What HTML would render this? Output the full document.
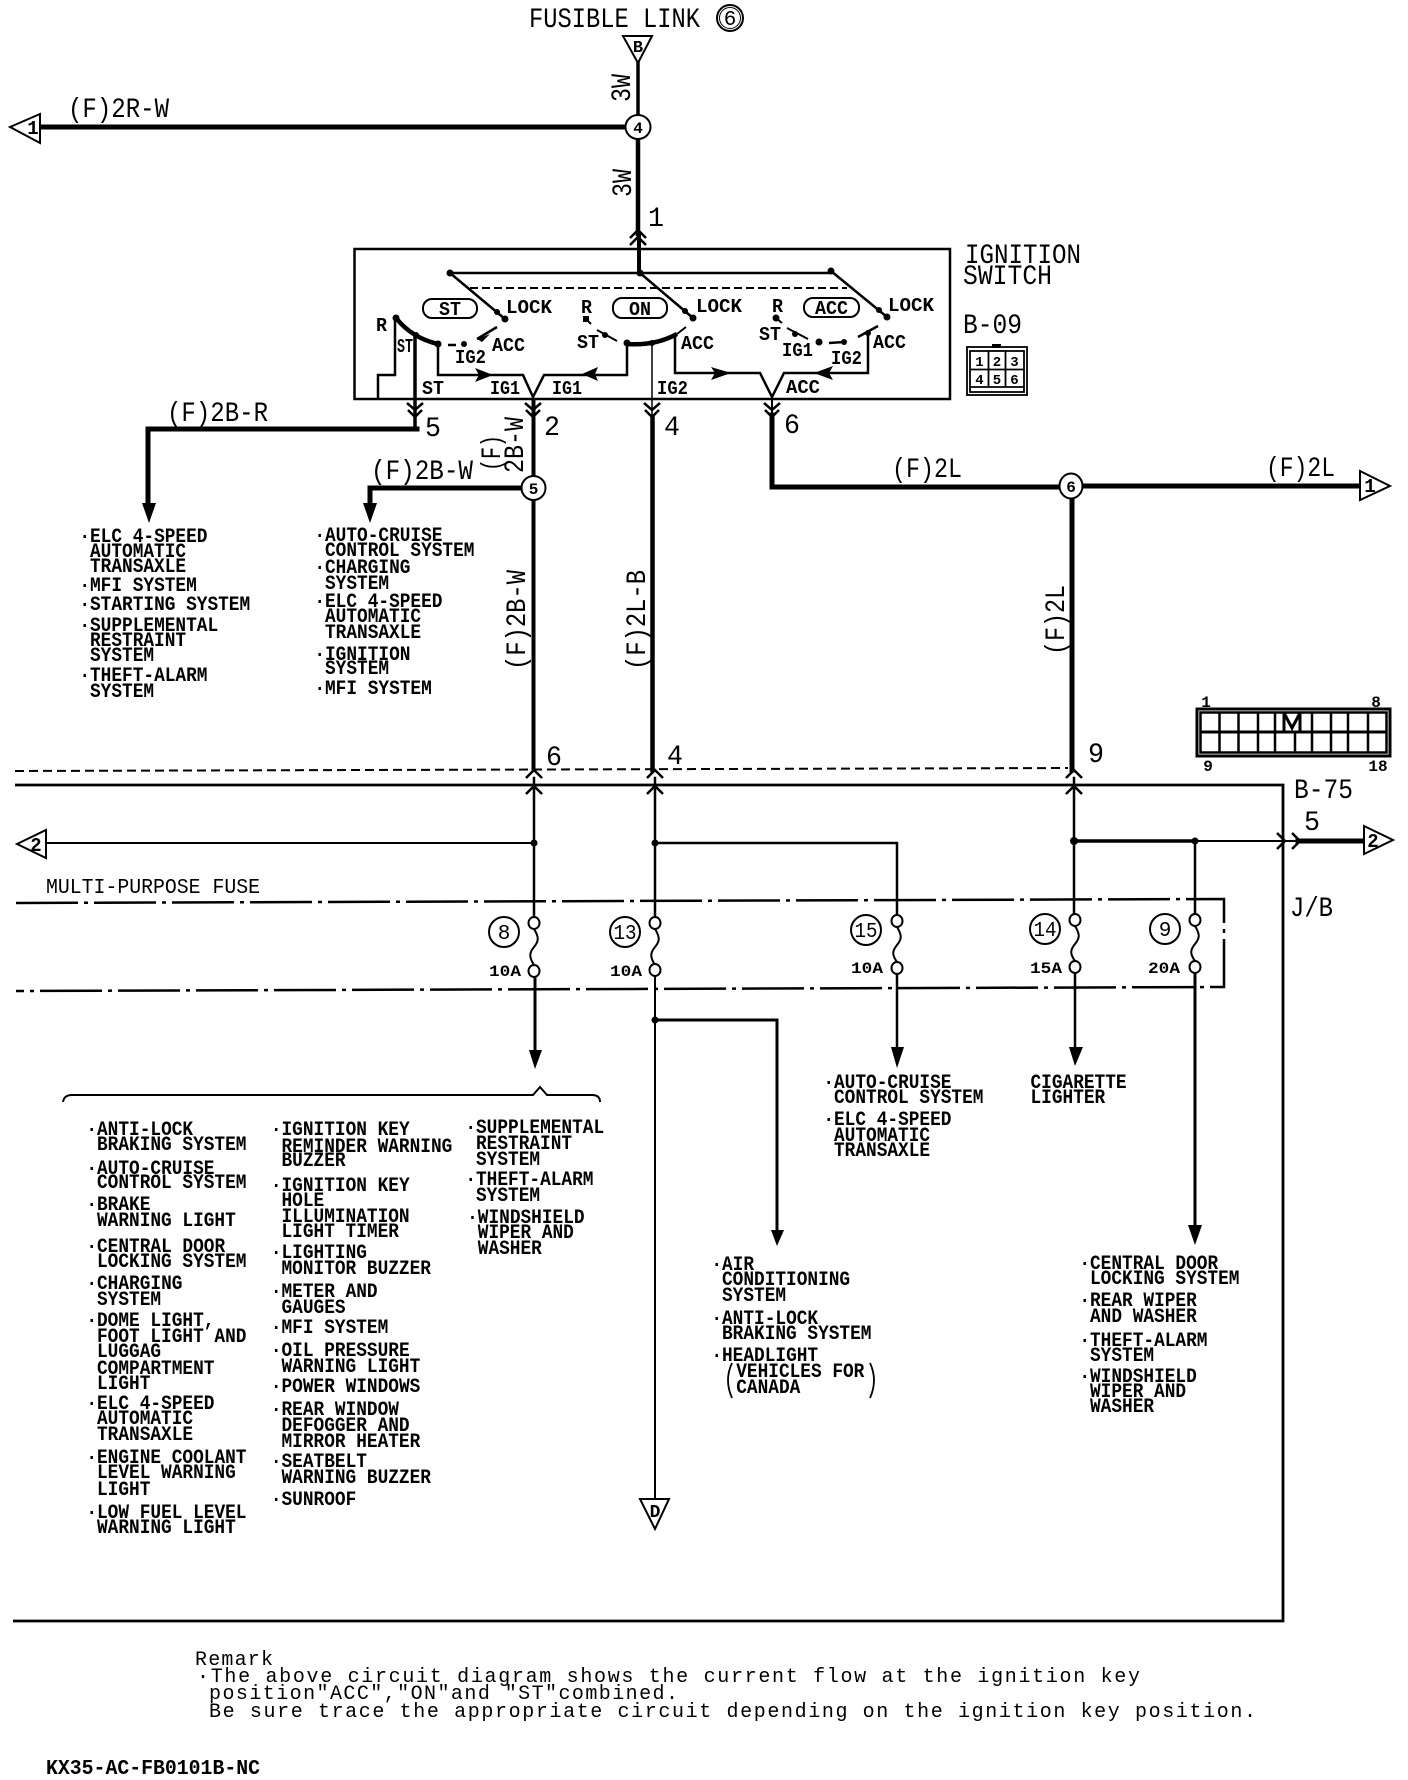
<!DOCTYPE html>
<html><head><meta charset="utf-8"><style>
html,body{margin:0;padding:0;background:#fff}
svg{display:block}
text{font-family:"Liberation Mono",monospace;fill:#000;white-space:pre}
.l text{font-size:20px;font-weight:bold}
.r{font-size:28px}
.s{font-size:19px;font-weight:bold}
.n{font-size:16px;font-weight:bold;text-anchor:middle}
.f{font-size:21px;text-anchor:middle;font-weight:normal}
.w{fill:none;stroke:#000;stroke-linecap:square;stroke-linejoin:miter}
.t{fill:#fff;stroke:#000;stroke-width:2}
.c{fill:none;stroke:#000;stroke-width:2.5}
</style></head><body>
<svg xmlns="http://www.w3.org/2000/svg" width="1408" height="1780" viewBox="0 0 1408 1780">
<rect width="1408" height="1780" fill="#fff"/>

<!-- heavy wires -->
<g class="w" stroke-width="5">
<path d="M40 127H626"/>
<path d="M638 139V234" stroke-width="4.5"/>
<path d="M417 429H148V505"/>
<path d="M772 415V487H1060"/>
<path d="M1083 486H1360"/>
<path d="M1072 498V770"/>
<path d="M1298 841H1362"/>
<path d="M521 488H370V505"/>
<path d="M533.5 400V476M533.5 500V770" stroke-width="4"/>
<path d="M652.5 418V770" stroke-width="4.5"/>
</g>
<g class="w">
<path d="M638 63V115" stroke-width="3.5"/>
<path d="M639 234V272" stroke-width="4"/>
<path d="M534 778V917" stroke-width="2.5"/>
<path d="M655 778V917" stroke-width="2.5"/>
<path d="M1074 778V914" stroke-width="2.5"/>
<path d="M46 843H534" stroke-width="2"/>
<path d="M655 843H897V915" stroke-width="2.5"/>
<path d="M1074 841H1195" stroke-width="3.5"/>
<path d="M1195 841H1298" stroke-width="2"/>
<path d="M1195 841V914" stroke-width="2.5"/>
<path d="M535 977V1052" stroke-width="3"/>
<path d="M655 976V1499" stroke-width="2"/>
<path d="M655 1020H777V1232" stroke-width="3"/>
<path d="M897 974V1050" stroke-width="2.5"/>
<path d="M1075 973V1050" stroke-width="2.5"/>
<path d="M1195 973V1226" stroke-width="3"/>
</g>

<!-- frames -->
<rect x="354.500" y="249" width="595.500" height="150" fill="none" stroke="#000" stroke-width="2.500"/>
<path d="M15 771L1068 768" fill="none" stroke="#000" stroke-width="2" stroke-dasharray="9 5"/>
<path d="M15 785H1283V1621H13" fill="none" stroke="#000" stroke-width="2.800"/>
<path d="M16 903L1224 899V987L16 991" fill="none" stroke="#000" stroke-width="2.500" stroke-dasharray="62 6 4 6"/>

<!-- terminals -->
<path class="t" d="M623 36H652L638 63Z"/>
<path class="t" d="M10 127L40 114V143Z"/>
<path class="t" d="M1360 471L1390 486L1360 500Z"/>
<path class="t" d="M17 844L46 830V858Z"/>
<path class="t" d="M1364 826L1393 840L1364 854Z"/>
<path class="t" d="M640 1499H669L655 1529Z"/>
<text class="n" x="638" y="52" style="font-size:17px">B</text>
<text class="n" x="33" y="134" style="font-size:19px">1</text>
<text class="n" x="1370" y="492" style="font-size:19px">1</text>
<text class="n" x="36" y="851" style="font-size:19px">2</text>
<text class="n" x="1373" y="847" style="font-size:19px">2</text>
<text class="n" x="655" y="1517" style="font-size:18px">D</text>

<!-- nodes -->
<ellipse class="t" cx="638" cy="127" rx="12.500" ry="12"/><text class="n" x="638" y="133">4</text>
<ellipse class="t" cx="533.500" cy="488" rx="12" ry="12"/><text class="n" x="533.500" y="494">5</text>
<ellipse class="t" cx="1071" cy="486" rx="11.500" ry="12.500"/><text class="n" x="1071" y="492">6</text>
<circle cx="730" cy="18" r="13" fill="#fff" stroke="#000" stroke-width="2"/><circle cx="730" cy="18" r="10.500" fill="none" stroke="#000"/><text class="f" x="730" y="25">6</text>

<!-- big labels -->
<text class="r" x="529" y="27" textLength="171" lengthAdjust="spacingAndGlyphs">FUSIBLE LINK</text>
<text class="r" x="68" y="117" textLength="101" lengthAdjust="spacingAndGlyphs">(F)2R-W</text>
<text class="r" x="167" y="421" textLength="101" lengthAdjust="spacingAndGlyphs">(F)2B-R</text>
<text class="r" x="371" y="479" textLength="102" lengthAdjust="spacingAndGlyphs">(F)2B-W</text>
<text class="r" x="892" y="477" textLength="70" lengthAdjust="spacingAndGlyphs">(F)2L</text>
<text class="r" x="1266" y="476" textLength="69" lengthAdjust="spacingAndGlyphs">(F)2L</text>
<text class="r" transform="translate(630,102) rotate(-90)" textLength="28" lengthAdjust="spacingAndGlyphs">3W</text>
<text class="r" transform="translate(631,197) rotate(-90)" textLength="28" lengthAdjust="spacingAndGlyphs">3W</text>
<text class="r" transform="translate(500,471) rotate(-90)" textLength="36" lengthAdjust="spacingAndGlyphs">(F)</text>
<text class="r" transform="translate(523,473) rotate(-90)" textLength="56" lengthAdjust="spacingAndGlyphs">2B-W</text>
<text class="r" transform="translate(525,670) rotate(-90)" textLength="100" lengthAdjust="spacingAndGlyphs">(F)2B-W</text>
<text class="r" transform="translate(645,670) rotate(-90)" textLength="100" lengthAdjust="spacingAndGlyphs">(F)2L-B</text>
<text class="r" transform="translate(1064,655) rotate(-90)" textLength="70" lengthAdjust="spacingAndGlyphs">(F)2L</text>
<text class="r" x="965" y="263" textLength="116" lengthAdjust="spacingAndGlyphs">IGNITION</text>
<text class="r" x="963" y="284" textLength="89" lengthAdjust="spacingAndGlyphs">SWITCH</text>
<text class="r" x="963" y="333" textLength="59" lengthAdjust="spacingAndGlyphs">B-09</text>
<text class="r" x="1294" y="798" textLength="59" lengthAdjust="spacingAndGlyphs">B-75</text>
<text class="r" x="1290" y="916" textLength="43" lengthAdjust="spacingAndGlyphs">J/B</text>
<g class="r">
<text class="r" x="648" y="226" textLength="16" lengthAdjust="spacingAndGlyphs">1</text>
<text class="r" x="425" y="436" textLength="16" lengthAdjust="spacingAndGlyphs">5</text>
<text class="r" x="544" y="435" textLength="16" lengthAdjust="spacingAndGlyphs">2</text>
<text class="r" x="664" y="435" textLength="16" lengthAdjust="spacingAndGlyphs">4</text>
<text class="r" x="784" y="433" textLength="16" lengthAdjust="spacingAndGlyphs">6</text>
<text class="r" x="546" y="765" textLength="16" lengthAdjust="spacingAndGlyphs">6</text>
<text class="r" x="667" y="764" textLength="16" lengthAdjust="spacingAndGlyphs">4</text>
<text class="r" x="1088" y="762" textLength="16" lengthAdjust="spacingAndGlyphs">9</text>
<text class="r" x="1304" y="830" textLength="16" lengthAdjust="spacingAndGlyphs">5</text>
</g>

<!-- switch -->
<g fill="none" stroke="#000">
<path d="M450 273H831" stroke-width="2.500"/>
<path d="M470 288H847" stroke-width="2" stroke-dasharray="8 4"/>
<path d="M450 273L505 319M640 273L693 318M831 271L887 317" stroke-width="2.500"/>
<path d="M396 318Q412 338 438 344" stroke-width="4.500"/>
<path d="M627 344Q655 346 677 334" stroke-width="4.500"/>
<path d="M677 334L686 327" stroke-width="2"/>
<path d="M448 345H456M477 339L497 327" stroke-width="2.500"/>
<path d="M597 330L617 341M586 319L591 324" stroke-width="2"/>
<path d="M787 328L808 339M776 318L782 323" stroke-width="2"/>
<path d="M829 343L844 342M858 337L878 326" stroke-width="2.500"/>
<path d="M395 320V375H378V399" stroke-width="2.500"/>
<path d="M415 335V430" stroke-width="3.500"/>
<path d="M438 344V375H523L533 397L544 375H627V344" stroke-width="2.500"/>
<path d="M652 343V418" stroke-width="1.500"/>
<path d="M675 335V373H760L772 397L784 373H868V333" stroke-width="2.500"/>
<path d="M772 397V415" stroke-width="2"/>
</g>
<g>
<circle cx="450" cy="273" r="3.500"/><circle cx="640" cy="273" r="3.500"/><circle cx="831" cy="271" r="3.500"/>
<circle cx="505" cy="319" r="3.500"/><circle cx="693" cy="318" r="3.500"/><circle cx="887" cy="317" r="3.500"/>
<circle cx="497" cy="312" r="3"/><circle cx="685" cy="311" r="3"/><circle cx="879" cy="310" r="3"/>
<circle cx="396" cy="318" r="3.500"/><circle cx="416" cy="335" r="3"/><circle cx="438" cy="344" r="3.500"/><circle cx="464" cy="344" r="3"/>
<rect x="583" y="316" width="6" height="6"/><circle cx="605" cy="335" r="3"/><circle cx="627" cy="343" r="3.500"/><circle cx="652" cy="343" r="3"/>
<circle cx="776" cy="318" r="3.500"/><circle cx="795" cy="334" r="3"/><circle cx="819" cy="342" r="3.500"/><circle cx="844" cy="342" r="3"/><circle cx="868" cy="333" r="3"/>
<path d="M475 368L493 375L475 382L479 375ZM582 374L598 367L595 374L598 381ZM731 373L711 367L715 373L711 380ZM814 373L833 366L829 373L833 380Z"/>
<path d="M477 339L490 334L482 342Z"/>
<!-- junctions -->
<circle cx="534" cy="843" r="3.500"/><circle cx="655" cy="843" r="3.500"/><circle cx="1074" cy="841" r="4"/><circle cx="1195" cy="841" r="3.500"/><circle cx="655" cy="1020" r="3.500"/>
<!-- arrows -->
<path d="M142 503H156L149 523ZM363 503H377L370 523ZM529 1050H542L535 1069ZM771 1230H784L777 1246ZM891 1047H904L897 1068ZM1069 1047H1083L1075 1066ZM1188 1225H1202L1195 1245Z"/>
</g>
<g fill="none" stroke="#000" stroke-width="2">
<rect x="423" y="299" width="54" height="19" rx="9"/>
<rect x="613" y="298" width="54" height="20" rx="9"/>
<rect x="804" y="298" width="55" height="19" rx="9"/>
</g>
<g class="s">
<text x="506" y="313" textLength="46" lengthAdjust="spacingAndGlyphs">LOCK</text>
<text x="696" y="312" textLength="46" lengthAdjust="spacingAndGlyphs">LOCK</text>
<text x="888" y="311" textLength="46" lengthAdjust="spacingAndGlyphs">LOCK</text>
<text x="376" y="331" textLength="11" lengthAdjust="spacingAndGlyphs">R</text>
<text x="397" y="352" textLength="16" lengthAdjust="spacingAndGlyphs">ST</text>
<text x="455" y="363" textLength="31" lengthAdjust="spacingAndGlyphs">IG2</text>
<text x="492" y="351" textLength="33" lengthAdjust="spacingAndGlyphs">ACC</text>
<text x="581" y="313" textLength="11" lengthAdjust="spacingAndGlyphs">R</text>
<text x="577" y="348" textLength="22" lengthAdjust="spacingAndGlyphs">ST</text>
<text x="490" y="394" textLength="30" lengthAdjust="spacingAndGlyphs">IG1</text>
<text x="552" y="394" textLength="30" lengthAdjust="spacingAndGlyphs">IG1</text>
<text x="422" y="394" textLength="22" lengthAdjust="spacingAndGlyphs">ST</text>
<text x="657" y="394" textLength="31" lengthAdjust="spacingAndGlyphs">IG2</text>
<text x="681" y="349" textLength="33" lengthAdjust="spacingAndGlyphs">ACC</text>
<text x="772" y="312" textLength="11" lengthAdjust="spacingAndGlyphs">R</text>
<text x="759" y="340" textLength="22" lengthAdjust="spacingAndGlyphs">ST</text>
<text x="782" y="356" textLength="31" lengthAdjust="spacingAndGlyphs">IG1</text>
<text x="831" y="364" textLength="31" lengthAdjust="spacingAndGlyphs">IG2</text>
<text x="873" y="348" textLength="33" lengthAdjust="spacingAndGlyphs">ACC</text>
<text x="786" y="393" textLength="34" lengthAdjust="spacingAndGlyphs">ACC</text>
<text x="439" y="315" textLength="22" lengthAdjust="spacingAndGlyphs">ST</text>
<text x="629" y="315" textLength="22" lengthAdjust="spacingAndGlyphs">ON</text>
<text x="815" y="314" textLength="33" lengthAdjust="spacingAndGlyphs">ACC</text>
</g>

<!-- chevrons -->
<g class="c">
<path d="M630 238L638 230L646 238M630 245L638 237L646 245"/>
<path d="M407 403L415 410L423 403M408 410L415 417L422 410"/>
<path d="M525 403L533 410L541 403M526 410L533 417L540 410"/>
<path d="M644 403L652 410L660 403M645 410L652 417L659 410"/>
<path d="M764 403L772 410L780 403M765 410L772 417L779 410"/>
<path d="M526 778L534 770L542 778M526 794L534 786L542 794"/>
<path d="M647 778L655 770L663 778M647 794L655 786L663 794"/>
<path d="M1066 778L1074 770L1082 778M1066 794L1074 786L1082 794"/>
<path d="M1277 833L1285 841L1277 849M1292 833L1300 841L1292 849"/>
<path d="M63 1102Q64 1095 72 1095H533L540 1087L547 1095H592Q600 1095 600 1102" stroke-width="2"/>
<path d="M732 1363Q724 1380 732 1398M870 1363Q878 1380 870 1398" stroke-width="1.800"/>
</g>

<!-- fuses -->
<g fill="none" stroke="#000" stroke-width="2">
<path d="M534 929c5 8 5 12 0 18s-5 10 0 18"/>
<path d="M655 929c5 8 5 12 0 18s-5 10 0 18"/>
<path d="M897 927c5 8 5 12 0 18s-5 10 0 17"/>
<path d="M1075 926c5 8 5 12 0 18s-5 10 0 17"/>
<path d="M1195 926c5 8 5 12 0 18s-5 10 0 17"/>
</g>
<g fill="#fff" stroke="#000" stroke-width="2">
<ellipse cx="534" cy="923" rx="5.500" ry="6"/><ellipse cx="534" cy="971" rx="5.500" ry="6"/>
<ellipse cx="655" cy="923" rx="5.500" ry="6"/><ellipse cx="655" cy="970" rx="5.500" ry="6"/>
<ellipse cx="897" cy="921" rx="5.500" ry="6"/><ellipse cx="897" cy="968" rx="5.500" ry="6"/>
<ellipse cx="1075" cy="920" rx="5.500" ry="6"/><ellipse cx="1075" cy="967" rx="5.500" ry="6"/>
<ellipse cx="1195" cy="920" rx="5.500" ry="6"/><ellipse cx="1195" cy="967" rx="5.500" ry="6"/>
<circle cx="504" cy="932" r="15"/><circle cx="625" cy="932" r="15"/><circle cx="866" cy="930" r="15"/><circle cx="1045" cy="929" r="15"/><circle cx="1165" cy="929" r="15"/>
</g>
<g>
<text class="f" x="504" y="939">8</text>
<text class="f" x="625" y="939" textLength="23" lengthAdjust="spacingAndGlyphs">13</text>
<text class="f" x="866" y="937" textLength="23" lengthAdjust="spacingAndGlyphs">15</text>
<text class="f" x="1045" y="936" textLength="23" lengthAdjust="spacingAndGlyphs">14</text>
<text class="f" x="1165" y="936">9</text>
</g>
<g class="s" style="font-size:16px">
<text x="489" y="976" textLength="32" lengthAdjust="spacingAndGlyphs">10A</text>
<text x="610" y="976" textLength="32" lengthAdjust="spacingAndGlyphs">10A</text>
<text x="851" y="973" textLength="32" lengthAdjust="spacingAndGlyphs">10A</text>
<text x="1030" y="973" textLength="32" lengthAdjust="spacingAndGlyphs">15A</text>
<text x="1148" y="973" textLength="32" lengthAdjust="spacingAndGlyphs">20A</text>
</g>
<text x="46" y="893" font-size="21" textLength="214" lengthAdjust="spacingAndGlyphs">MULTI-PURPOSE FUSE</text>

<!-- connector B-09 -->
<g fill="none" stroke="#000" stroke-width="1.800">
<rect x="967" y="347" width="60" height="48"/><rect x="970" y="351" width="54" height="41"/>
<path d="M970 369.500H1024M970 387H1024M988.500 351V387M1005.500 351V387"/>
</g>
<rect x="992" y="344" width="9" height="4"/>
<g><text class="n" style="font-size:14px" x="979.500" y="366">1</text><text class="n" style="font-size:14px" x="997" y="366">2</text><text class="n" style="font-size:14px" x="1014.500" y="366">3</text><text class="n" style="font-size:14px" x="979.500" y="384">4</text><text class="n" style="font-size:14px" x="997" y="384">5</text><text class="n" style="font-size:14px" x="1014.500" y="384">6</text></g>

<!-- connector B-75 -->
<g fill="none" stroke="#000" stroke-width="2.500">
<rect x="1197" y="709" width="193" height="47" stroke-width="3"/>
<rect x="1200.500" y="712.500" width="186" height="40"/>
<path d="M1200 732H1387" stroke-width="3"/>
<path d="M1219.500 712V753M1238.500 712V753M1258 712V753M1275 712V753M1295 753V732M1312 712V753M1331 712V753M1348 712V753M1368 712V753"/>
<path d="M1284 731V713L1292 728L1300 713V731" stroke-width="3"/>
</g>
<g><text class="n" x="1206" y="707">1</text><text class="n" x="1376" y="707">8</text><text class="n" x="1208" y="771">9</text><text class="n" x="1378" y="771">18</text></g>

<!-- lists -->
<g class="l" transform="translate(90,-1) scale(.89,1)">
<text x="-12" y="543">·ELC 4-SPEED</text><text y="558">AUTOMATIC</text><text y="573">TRANSAXLE</text>
<text x="-12" y="592">·MFI SYSTEM</text>
<text x="-12" y="611">·STARTING SYSTEM</text>
<text x="-12" y="632">·SUPPLEMENTAL</text><text y="647">RESTRAINT</text><text y="662">SYSTEM</text>
<text x="-12" y="682">·THEFT-ALARM</text><text y="698">SYSTEM</text>
</g>
<g class="l" transform="translate(325,-1) scale(.89,1)">
<text x="-12" y="542">·AUTO-CRUISE</text><text y="557">CONTROL SYSTEM</text>
<text x="-12" y="574">·CHARGING</text><text y="590">SYSTEM</text>
<text x="-12" y="608">·ELC 4-SPEED</text><text y="623">AUTOMATIC</text><text y="639">TRANSAXLE</text>
<text x="-12" y="661">·IGNITION</text><text y="675">SYSTEM</text>
<text x="-12" y="695">·MFI SYSTEM</text>
</g>
<g class="l" transform="translate(97,-1) scale(.89,1)">
<text x="-12" y="1136">·ANTI-LOCK</text><text y="1151">BRAKING SYSTEM</text>
<text x="-12" y="1175">·AUTO-CRUISE</text><text y="1189">CONTROL SYSTEM</text>
<text x="-12" y="1211">·BRAKE</text><text y="1227">WARNING LIGHT</text>
<text x="-12" y="1253">·CENTRAL DOOR</text><text y="1268">LOCKING SYSTEM</text>
<text x="-12" y="1290">·CHARGING</text><text y="1306">SYSTEM</text>
<text x="-12" y="1327">·DOME LIGHT,</text><text y="1343">FOOT LIGHT AND</text><text y="1358">LUGGAG</text><text y="1375">COMPARTMENT</text><text y="1390">LIGHT</text>
<text x="-12" y="1410">·ELC 4-SPEED</text><text y="1425">AUTOMATIC</text><text y="1441">TRANSAXLE</text>
<text x="-12" y="1464">·ENGINE COOLANT</text><text y="1479">LEVEL WARNING</text><text y="1496">LIGHT</text>
<text x="-12" y="1519">·LOW FUEL LEVEL</text><text y="1534">WARNING LIGHT</text>
</g>
<g class="l" transform="translate(281.500,-1) scale(.89,1)">
<text x="-12" y="1136">·IGNITION KEY</text><text y="1153">REMINDER WARNING</text><text y="1167">BUZZER</text>
<text x="-12" y="1192">·IGNITION KEY</text><text y="1207">HOLE</text><text y="1223">ILLUMINATION</text><text y="1238">LIGHT TIMER</text>
<text x="-12" y="1259">·LIGHTING</text><text y="1275">MONITOR BUZZER</text>
<text x="-12" y="1298">·METER AND</text><text y="1314">GAUGES</text>
<text x="-12" y="1334">·MFI SYSTEM</text>
<text x="-12" y="1357">·OIL PRESSURE</text><text y="1373">WARNING LIGHT</text>
<text x="-12" y="1393">·POWER WINDOWS</text>
<text x="-12" y="1416">·REAR WINDOW</text><text y="1432">DEFOGGER AND</text><text y="1448">MIRROR HEATER</text>
<text x="-12" y="1468">·SEATBELT</text><text y="1484">WARNING BUZZER</text>
<text x="-12" y="1506">·SUNROOF</text>
</g>
<g class="l" transform="translate(476,-1) scale(.89,1)">
<text x="-12" y="1134">·SUPPLEMENTAL</text><text y="1150">RESTRAINT</text><text y="1166">SYSTEM</text>
<text x="-12" y="1186">·THEFT-ALARM</text><text y="1202">SYSTEM</text>
<text x="-10" y="1224">·WINDSHIELD</text><text x="2" y="1239">WIPER AND</text><text x="2" y="1255">WASHER</text>
</g>
<g class="l" transform="translate(834,-1) scale(.89,1)">
<text x="-12" y="1089">·AUTO-CRUISE</text><text y="1104">CONTROL SYSTEM</text>
<text x="-12" y="1126">·ELC 4-SPEED</text><text y="1142">AUTOMATIC</text><text y="1157">TRANSAXLE</text>
</g>
<g class="l" transform="translate(1030.500,-1) scale(.89,1)">
<text y="1089">CIGARETTE</text><text y="1104">LIGHTER</text>
</g>
<g class="l" transform="translate(722,-1) scale(.89,1)">
<text x="-12" y="1271">·AIR</text><text y="1286">CONDITIONING</text><text y="1302">SYSTEM</text>
<text x="-12" y="1325">·ANTI-LOCK</text><text y="1340">BRAKING SYSTEM</text>
<text x="-12" y="1362">·HEADLIGHT</text><text x="16" y="1378">VEHICLES FOR</text><text x="16" y="1394">CANADA</text>
</g>
<g class="l" transform="translate(1090,-1) scale(.89,1)">
<text x="-12" y="1270">·CENTRAL DOOR</text><text y="1285">LOCKING SYSTEM</text>
<text x="-12" y="1307">·REAR WIPER</text><text y="1323">AND WASHER</text>
<text x="-12" y="1347">·THEFT-ALARM</text><text y="1362">SYSTEM</text>
<text x="-12" y="1383">·WINDSHIELD</text><text y="1398">WIPER AND</text><text y="1413">WASHER</text>
</g>

<!-- remark -->
<g font-size="20">
<text x="195" y="1665" textLength="78">Remark</text>
<text x="197" y="1682" textLength="943">·The above circuit diagram shows the current flow at the ignition key</text>
<text x="209" y="1699" textLength="469">position"ACC","ON"and "ST"combined.</text>
<text x="209" y="1717" textLength="1047">Be sure trace the appropriate circuit depending on the ignition key position.</text>
</g>
<text x="46" y="1774" font-size="21" font-weight="bold" textLength="214" lengthAdjust="spacingAndGlyphs">KX35-AC-FB0101B-NC</text>
</svg>
</body></html>
